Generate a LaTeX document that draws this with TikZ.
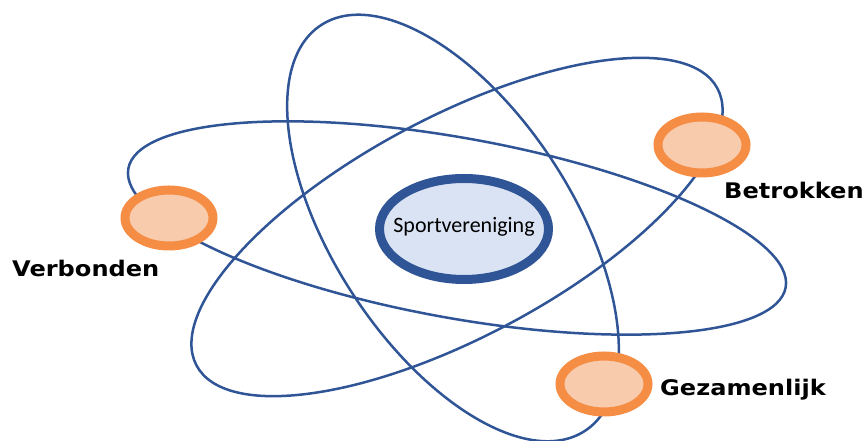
\documentclass[tikz,border=0pt]{standalone}
\usepackage{fontspec}
\setmainfont{Carlito}
\newfontfamily\labelfont[FakeStretch=1.12]{DejaVu Sans}
\usetikzlibrary{shapes.geometric}
\definecolor{orbitblue}{HTML}{2F5597}
\definecolor{corefill}{HTML}{DAE3F3}
\definecolor{dotorange}{HTML}{F58D45}
\definecolor{dotfill}{HTML}{F8CBAD}
\tikzset{
    orbit/.style={draw=orbitblue, line width=2.5bp},
    core/.style={ellipse, draw=orbitblue, fill=corefill, line width=9bp, minimum width=169bp, minimum height=101bp, inner sep=0pt},
    dot/.style={ellipse, draw=dotorange, fill=dotfill, line width=9bp, minimum width=88bp, minimum height=56bp, inner sep=0pt},
    tag/.style={font=\labelfont\bfseries\fontsize{21.5bp}{25bp}\selectfont, inner sep=0pt, anchor=base west}
}

\begin{document}
\begin{tikzpicture}[x=1bp, y=1bp]
                \useasboundingbox (0,0) rectangle (867,441);
                \draw[orbit, rotate around={-10.25:(457,213)}] (457,213) ellipse [x radius=334, y radius=90];
                \draw[orbit, rotate around={28:(457,214)}] (457,214) ellipse [x radius=295, y radius=110];
                \draw[orbit, rotate around={-57:(453,213)}] (453,213) ellipse [x radius=242, y radius=120];
                \node[core, label={[font=\fontsize{22bp}{26bp}\selectfont, yshift=2bp]center:Sportvereniging}] (club) at (464,212) {};
                \node[dot] (verbonden) at (169,223) {};
                \node[dot] (betrokken) at (702,296) {};
                \node[dot] (gezamenlijk) at (604,57) {};
                \node[tag] (verbondentag) at (12,164) {Verbonden};
                \node[tag] (betrokkentag) at (724,242) {Betrokken};
                \node[tag] (gezamenlijktag) at (660,45) {Gezamenlijk};
            \end{tikzpicture}
\end{document}
